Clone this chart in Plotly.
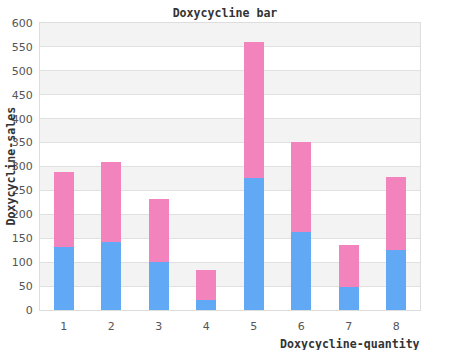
import plotly.graph_objects as go

categories = ["1", "2", "3", "4", "5", "6", "7", "8"]
series_a = [132, 143, 100, 21, 277, 164, 48, 126]
series_b = [157, 167, 132, 63, 284, 188, 88, 152]
y_ticks = list(range(0, 601, 50))

fig = go.Figure()
fig.add_bar(x=categories, y=series_a, marker=dict(color="#62a9f5", line=dict(width=0)), width=0.42, name="a")
fig.add_bar(x=categories, y=series_b, marker=dict(color="#f283bc", line=dict(width=0)), width=0.42, name="b")

shapes = []
for i in range(1, len(y_ticks) - 1, 2):
    shapes.append(dict(type="rect", xref="paper", yref="y", x0=0, x1=1,
                       y0=y_ticks[i], y1=y_ticks[i + 1], fillcolor="#f3f3f3",
                       line=dict(width=0), layer="below"))

mono = "DejaVu Sans Mono"
fig.update_layout(
    barmode="stack",
    width=450, height=350,
    margin=dict(l=40, r=30, t=23, b=40),
    paper_bgcolor="white", plot_bgcolor="white",
    showlegend=False,
    shapes=shapes,
    title=dict(text="<b>Doxycycline bar</b>", x=0.5, xanchor="center", y=1 - 13 / 350, yanchor="middle",
               font=dict(family=mono, size=11.6, color="#333")),
    xaxis=dict(showgrid=False, showline=True, linecolor="#dddddd", linewidth=1, mirror=True,
               ticks="", tickfont=dict(family="DejaVu Sans", size=11, color="#555"), ticklabelstandoff=6),
    yaxis=dict(range=[0, 600], tickvals=y_ticks, showgrid=True, gridcolor="#e0e0e0", gridwidth=1,
               showline=True, linecolor="#dddddd", linewidth=1, mirror=True, zeroline=False,
               ticks="", tickfont=dict(family="DejaVu Sans", size=11, color="#555"), ticklabelstandoff=4),
    annotations=[
        dict(text="<b>Doxycycline-sales</b>", xref="paper", yref="paper", x=0, y=0.5,
             xanchor="center", yanchor="middle", xshift=-30, textangle=-90, showarrow=False,
             font=dict(family=mono, size=11.6, color="#333")),
        dict(text="<b>Doxycycline-quantity</b>", xref="paper", yref="paper", x=1, y=0,
             xanchor="right", yanchor="middle", yshift=-34, xshift=2, showarrow=False,
             font=dict(family=mono, size=11.6, color="#333")),
    ],
)
fig.write_html("out.html")
